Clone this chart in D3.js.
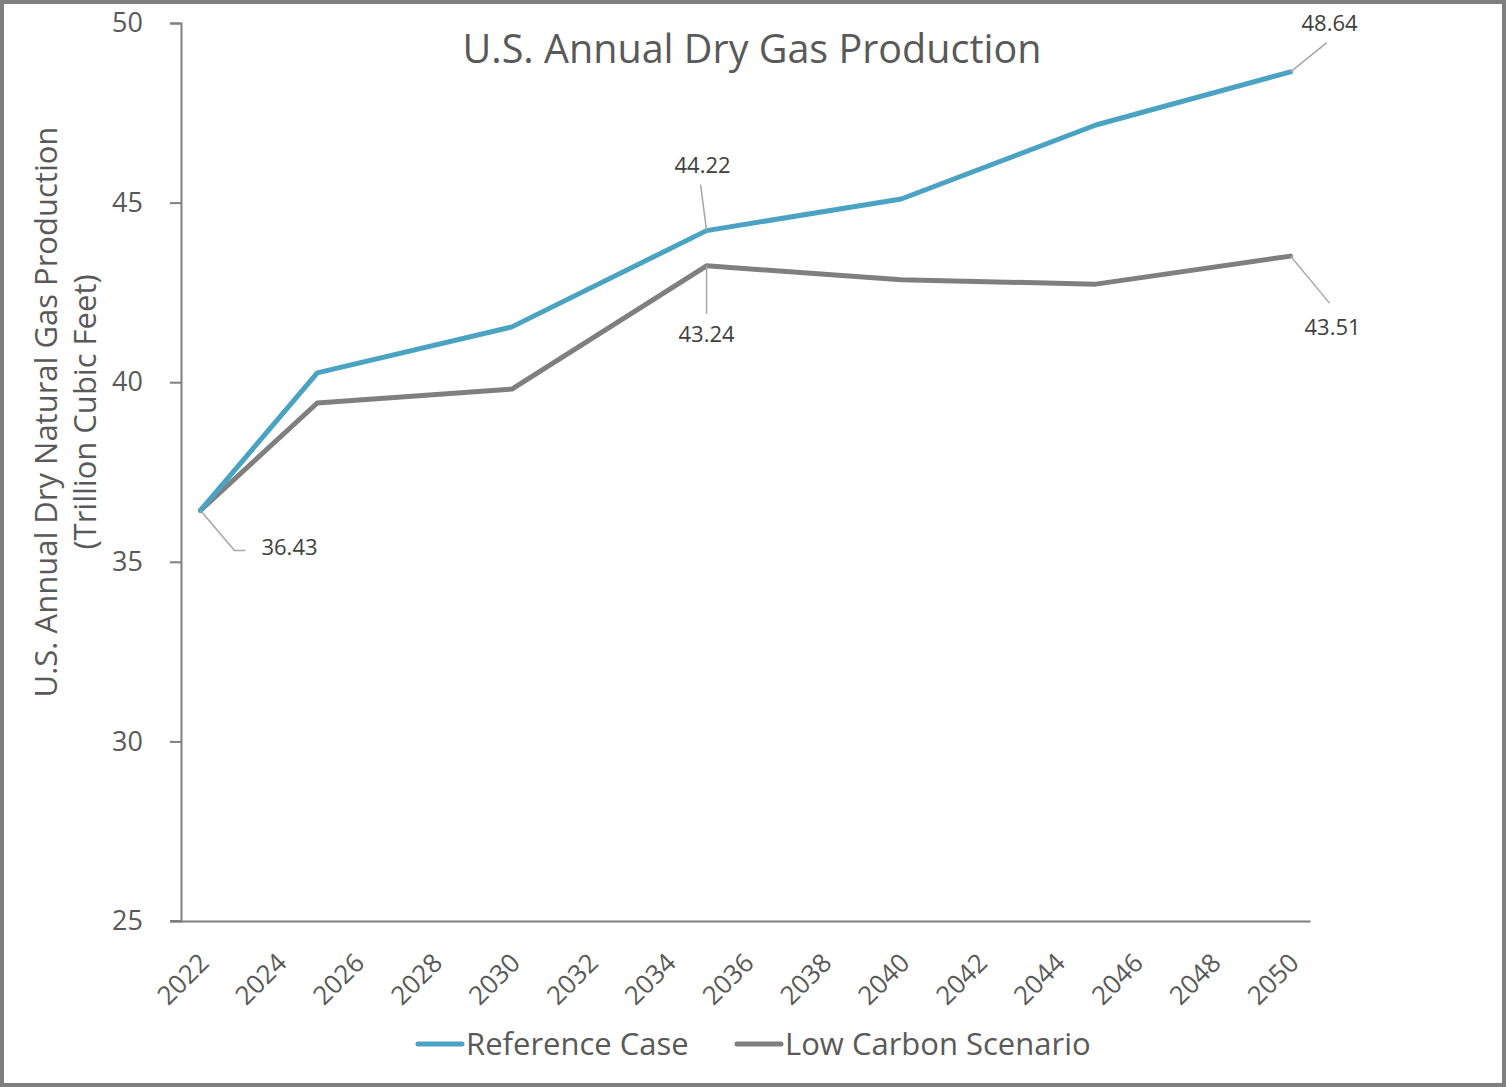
<!DOCTYPE html>
<html>
<head>
<meta charset="utf-8">
<script src="https://cdn.jsdelivr.net/npm/d3@7"></script>
<style>
  body { margin: 0; background: #fff; }
  svg { display: block; font-family: "Open Sans", sans-serif; }
</style>
</head>
<body>
<svg id="chart"></svg>
<script>
// data
const years = [2022, 2025, 2030, 2035, 2040, 2045, 2050];
const referenceCase = [36.43, 40.26, 41.54, 44.22, 45.10, 47.16, 48.64];
const lowCarbon = [36.43, 39.42, 39.81, 43.24, 42.85, 42.73, 43.51];
const yTicks = [25, 30, 35, 40, 45, 50];
const xTicks = d3.range(2022, 2051, 2);
const seriesNames = ["Reference Case", "Low Carbon Scenario"];

var width = 1506, height = 1087;
var blue = "#4BA3C3", gray = "#7F7F7F", textGray = "#595959";

var x = d3.scaleLinear().domain([2021.5, 2050.5]).range([181, 1310]);
var y = d3.scaleLinear().domain([25, 50]).range([921, 23]);

const svg = d3.select("#chart").attr("width", width).attr("height", height);

// outer border
svg.append("rect")
  .attr("x", 2).attr("y", 2).attr("width", width - 4).attr("height", height - 4)
  .attr("fill", "#fff").attr("stroke", "#7F7F7F").attr("stroke-width", 4);

// y axis
var yAxis = g => g
  .attr("transform", `translate(${x.range()[0]},0)`)
  .call(d3.axisLeft(y).tickValues(yTicks).tickSize(11).tickPadding(27))
  .call(g => g.select(".domain").attr("stroke", gray).attr("stroke-width", 2))
  .call(g => g.selectAll(".tick line").attr("stroke", gray).attr("stroke-width", 2))
  .call(g => g.selectAll("text").attr("fill", textGray).style("font-size", "27px")
      .style("font-family", "'Open Sans', sans-serif"));

// x axis
var xAxis = g => g
  .attr("transform", `translate(0,${y(25)})`)
  .call(d3.axisBottom(x).tickValues(xTicks).tickFormat(d3.format("d")).tickSize(0).tickSizeOuter(0))
  .call(g => g.select(".domain").attr("stroke", gray).attr("stroke-width", 2))
  .call(g => g.selectAll("text")
      .attr("fill", textGray).style("font-size", "26px")
      .style("font-family", "'Open Sans', sans-serif")
      .style("text-anchor", "end")
      .attr("dy", "0.35em")
      .attr("y", 0)
      .attr("transform", "translate(3,37) rotate(-45)"));

svg.append("g").call(yAxis);
svg.append("g").call(xAxis);
// extend x axis line left to the 25 tick
svg.append("line").attr("x1", 170).attr("x2", 181).attr("y1", y(25)).attr("y2", y(25))
  .attr("stroke", gray).attr("stroke-width", 2);

// title
svg.append("text")
  .attr("x", 752).attr("y", 63)
  .attr("text-anchor", "middle")
  .attr("fill", textGray)
  .style("font-size", "39.5px")
  .text("U.S. Annual Dry Gas Production");

// y axis title
svg.append("text")
  .attr("transform", "translate(57,412) rotate(-90)")
  .attr("text-anchor", "middle")
  .attr("fill", textGray)
  .style("font-size", "31px")
  .selectAll("tspan")
  .data(["U.S. Annual Dry Natural Gas Production", "(Trillion Cubic Feet)"])
  .join("tspan")
    .attr("x", 0)
    .attr("dy", (d, i) => i === 0 ? 0 : 39)
    .text(d => d);

// lines
var line = d3.line().x(d => x(d[0])).y(d => y(d[1]));
var series = [
  { name: seriesNames[0], values: d3.zip(years, referenceCase), color: blue },
  { name: seriesNames[1], values: d3.zip(years, lowCarbon), color: gray }
];

svg.append("g").selectAll("path")
  .data(series.slice().reverse())
  .join("path")
    .attr("d", d => line(d.values))
    .attr("fill", "none")
    .attr("stroke", d => d.color)
    .attr("stroke-width", 5)
    .attr("stroke-linejoin", "round")
    .attr("stroke-linecap", "round");

// data labels with leader lines
var labels = [
  { s: 1, i: 0, pts: [[34, 40], [45, 40]], tx: 61, ty: 45, anchor: "start" },
  { s: 0, i: 3, pts: [[-6, -46]], tx: -4, ty: -58, anchor: "middle" },
  { s: 1, i: 3, pts: [[0, 48]], tx: 0, ty: 76, anchor: "middle" },
  { s: 0, i: 6, pts: [[36, -29]], tx: 39, ty: -41, anchor: "middle" },
  { s: 1, i: 6, pts: [[39, 47]], tx: 42, ty: 79, anchor: "middle" }
];

var lg = svg.append("g");
labels.forEach(l => {
  var v = series[l.s].values[l.i];
  var px = x(v[0]), py = y(v[1]);
  var path = d3.path();
  path.moveTo(px, py);
  l.pts.forEach(p => path.lineTo(px + p[0], py + p[1]));
  lg.append("path").attr("d", path.toString())
    .attr("fill", "none").attr("stroke", "#A6A6A6").attr("stroke-width", 1.5);
  lg.append("text")
    .attr("x", px + l.tx).attr("y", py + l.ty)
    .attr("text-anchor", l.anchor)
    .attr("fill", "#404040")
    .style("font-size", "22px")
    .text(v[1].toFixed(2));
});

// legend
var legend = svg.append("g");
var legendX = [418, 737];
series.forEach((s, i) => {
  legend.append("line")
    .attr("x1", legendX[i]).attr("x2", legendX[i] + 44)
    .attr("y1", 1044).attr("y2", 1044)
    .attr("stroke", s.color).attr("stroke-width", 5).attr("stroke-linecap", "round");
  legend.append("text")
    .attr("x", legendX[i] + 48).attr("y", 1055)
    .attr("fill", textGray)
    .style("font-size", "31px")
    .text(s.name);
});
</script>
</body>
</html>
